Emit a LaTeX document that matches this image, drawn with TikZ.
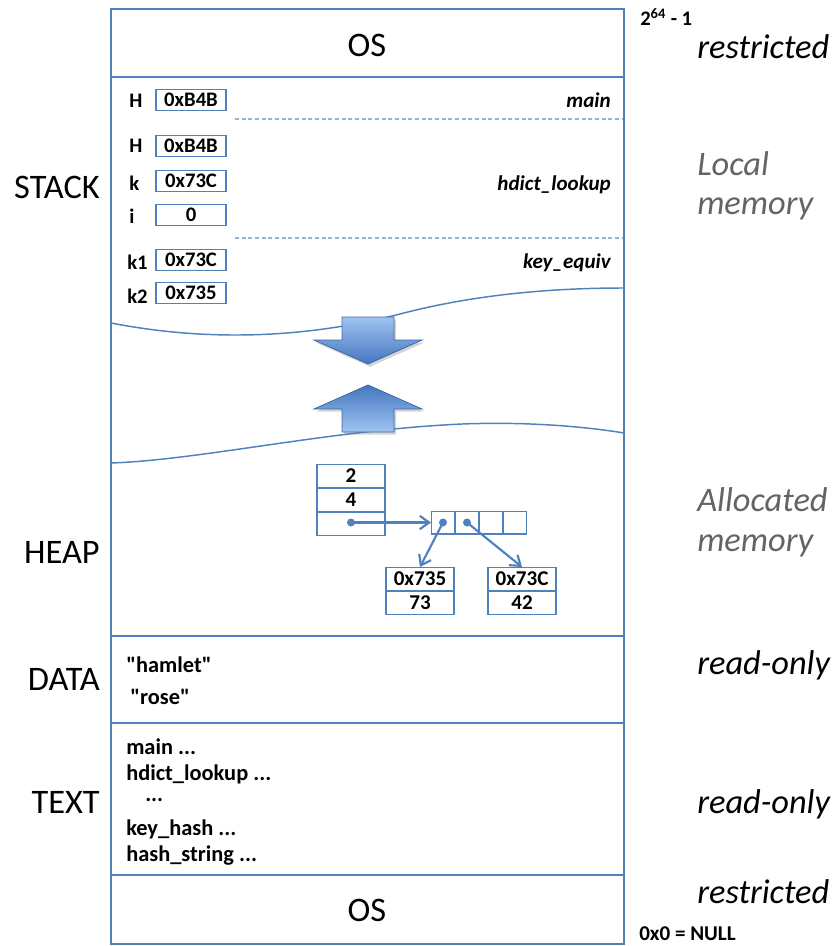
\documentclass[tikz,border=0pt]{standalone}
\usepackage{fontspec}
\setmainfont{Carlito}
\usetikzlibrary{arrows.meta,shadows}
\definecolor{bl}{RGB}{79,129,189}
\definecolor{dashc}{RGB}{149,179,215}
\definecolor{grayt}{RGB}{100,100,100}
\definecolor{arrlight}{RGB}{160,196,242}
\definecolor{arrdark}{RGB}{68,118,190}
\definecolor{arredge}{RGB}{62,104,168}
\tikzset{
  big/.style={font=\fontsize{25.8}{30}\selectfont, inner sep=0pt},
  seg/.style={font=\fontsize{25.8}{30}\selectfont, inner sep=0pt, anchor=east},
  side/.style={font=\itshape\fontsize{25.8}{30}\selectfont, inner sep=0pt, anchor=west},
  sidegray/.style={side, text=grayt},
  sml/.style={font=\bfseries\fontsize{15.5}{18}\selectfont, inner sep=0pt},
  lft/.style={sml, anchor=west},
  code/.style={font=\bfseries\fontsize{16.8}{19}\selectfont, inner sep=0pt, anchor=west},
  fn/.style={font=\bfseries\itshape\fontsize{15.8}{18}\selectfont, inner sep=0pt, anchor=east},
  var/.style={draw=bl, line width=1pt, minimum width=52.5pt, minimum height=15.75pt, inner sep=0pt, font=\bfseries\fontsize{15.5}{18}\selectfont},
  hcell/.style={draw=bl, line width=1pt, minimum width=51pt, minimum height=17pt, inner sep=0pt, font=\bfseries\fontsize{15.8}{18}\selectfont},
  acell/.style={draw=bl, line width=1pt, minimum width=17pt, minimum height=17pt, inner sep=0pt},
  frame/.style={draw=bl, line width=1.1pt},
  sep/.style={dashc, line width=0.9pt, dash pattern=on 3pt off 2pt},
  wave/.style={bl, line width=1.1pt},
  ptr/.style={bl, line width=1.6pt, -{Straight Barb[length=7pt,width=10pt,line width=1.6pt]}},
  dot/.style={circle, fill=bl, inner sep=0pt, minimum size=6pt},
  bigarrow/.style={draw=arredge, line width=0.6pt, drop shadow={opacity=0.35, shadow xshift=1.5pt, shadow yshift=-2pt}},
}
\begin{document}
\begin{tikzpicture}[x=0.75pt,y=-0.75pt]
\useasboundingbox (0,0) rectangle (837,946);

% main frame and section borders
\draw[frame] (111,9) rectangle (624,944);
\draw[frame] (111,77) -- (624,77);
\draw[frame] (111,636) -- (624,636);
\draw[frame] (111,723) -- (624,723);
\draw[frame] (111,875) -- (624,875);

% OS sections
\node[big] (ostop) at (367,45) {OS};
\node[big] (osbot) at (367,910) {OS};

% left segment labels
\node[seg] (lstack) at (100,187) {STACK};
\node[seg] (lheap) at (100,552) {HEAP};
\node[seg] (ldata) at (100,679) {DATA};
\node[seg] (ltext) at (100,802) {TEXT};

% right labels
\node[anchor=west, inner sep=0pt, font=\bfseries\fontsize{15.5}{18}\selectfont] (maxaddr) at (640,17) {2\textsuperscript{64} - 1};
\node[side] (r1) at (697,47) {restricted};
\node[sidegray] (r2a) at (697,164) {Local};
\node[sidegray] (r2b) at (697,209) {memory};
\node[sidegray] (r3a) at (697,500) {Allocated};
\node[sidegray] (r3b) at (697,546) {memory};
\node[side] (r4) at (697,665) {read-only};
\node[side] (r5) at (697,804) {read-only};
\node[side] (r6) at (697,892) {restricted};
\node[anchor=west, inner sep=0pt, font=\bfseries\fontsize{15.8}{18}\selectfont] (nulladdr) at (639,934) {0x0 = NULL};

% stack frames
\node[lft] (lH1) at (129,101) {H};
\node[var] (vH1) at (191,100) {0xB4B};
\node[fn] (fmain) at (611,100) {main};
\draw[sep] (235,119) -- (622,119);

\node[lft] (lH2) at (129,146) {H};
\node[var] (vH2) at (191,146) {0xB4B};
\node[lft] (lk) at (129,183) {k};
\node[var] (vk) at (191,181) {0x73C};
\node[lft] (li) at (129,216) {i};
\node[var] (vi) at (191,215) {0};
\node[fn] (fhd) at (611,185) {hdict\_lookup};
\draw[sep] (235,238) -- (622,238);

\node[lft] (lk1) at (127,262) {k1};
\node[var] (vk1) at (191,260) {0x73C};
\node[fn] (fke) at (611,263) {key\_equiv};
\node[lft] (lk2) at (127,296) {k2};
\node[var] (vk2) at (191,293) {0x735};

% wavy boundaries
\draw[wave] (111,323) .. controls (230,346) and (330,332) .. (400,314) .. controls (480,293) and (560,288) .. (624,288);
\draw[wave] (111,463) .. controls (200,460) and (330,430) .. (462,424) .. controls (540,421) and (600,429) .. (624,433);

% growth arrows
\path[bigarrow, top color=arrlight, bottom color=arrdark]
  (342,317) -- (394,317) -- (394,340) -- (422,340) -- (368,364) -- (314,340) -- (342,340) -- cycle;
\path[bigarrow, top color=arrdark, bottom color=arrlight]
  (368,385) -- (422,409) -- (394,409) -- (394,432) -- (342,432) -- (342,409) -- (314,409) -- cycle;

% heap
\node[hcell] (h2) at (351,476) {2};
\node[hcell, anchor=north] (h4) at (h2.south) {4};
\node[hcell, anchor=north] (hp) at (h4.south) {};
\node[acell] (a1) at (443,522.5) {};
\node[acell, anchor=west] (a2) at (a1.east) {};
\node[acell, anchor=west] (a3) at (a2.east) {};
\node[acell, anchor=west] (a4) at (a3.east) {};
\node[dot] (d0) at (351,522.5) {};
\node[dot] (d1) at (a1.center) {};
\node[dot] (d2) at (a2.center) {};
\node[hcell] (b1a) at (420,579) {0x735};
\node[hcell, anchor=north] (b1b) at (b1a.south) {73};
\node[hcell] (b2a) at (522,579) {0x73C};
\node[hcell, anchor=north] (b2b) at (b2a.south) {42};
\draw[ptr] (d0.center) -- (a1.west);
\draw[ptr] (d1.center) -- (b1a.north);
\draw[ptr] (d2.center) -- (b2a.north);

% data
\node[code] (s1) at (126,665) {\textquotedbl hamlet\textquotedbl};
\node[code] (s2) at (130,697) {\textquotedbl rose\textquotedbl};

% text
\node[code] (t1) at (126,747) {main ...};
\node[code] (t2) at (126,774) {hdict\_lookup ...};
\node[code] (t3) at (145,800) {...};
\node[code] (t4) at (126,829) {key\_hash ...};
\node[code] (t5) at (126,856) {hash\_string ...};
\end{tikzpicture}
\end{document}
